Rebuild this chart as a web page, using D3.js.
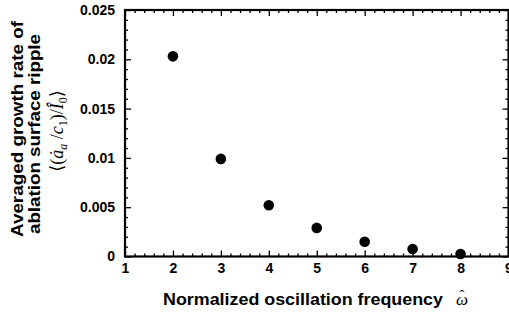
<!DOCTYPE html>
<html>
<head>
<meta charset="utf-8">
<script src="https://cdn.jsdelivr.net/npm/d3@7"></script>
<style>
  body { margin: 0; background: #fff; }
  svg { display: block; }
  text { font-family: "Liberation Sans", Arial, sans-serif; font-weight: bold; }
  .math { font-family: "Liberation Serif", "DejaVu Serif", serif; font-weight: normal; font-style: italic; }
</style>
</head>
<body>
<svg id="chart"></svg>
<script>
var width = 509
var height = 320

// data
var freq = [2, 3, 4, 5, 6, 7, 8]
var growth = [0.0203, 0.0099, 0.0052, 0.0029, 0.0015, 0.00076, 0.00025]
var xTicks = [1, 2, 3, 4, 5, 6, 7, 8, 9]
var yTicks = [0, 0.005, 0.01, 0.015, 0.02, 0.025]
var yTickLabels = ["0", "0.005", "0.01", "0.015", "0.02", "0.025"]

var svg = d3.select("#chart")
    .attr("width", width)
    .attr("height", height)

var x = d3.scaleLinear().domain([1, 9]).range([125, 508.5])
var y = d3.scaleLinear().domain([0, 0.025]).range([256.5, 10])

var xMinor = d3.range(1, 9.001, 0.2).filter(v => Math.abs(v - Math.round(v)) > 0.01)
var yMinor = d3.range(0, 0.02501, 0.001).filter(v => Math.abs(v / 0.005 - Math.round(v / 0.005)) > 0.01)

function styleAxis(g) {
    g.select(".domain").remove()
    g.selectAll(".tick line").attr("stroke", "#000").attr("stroke-width", 1.3)
}

// major + minor ticks on all four sides, pointing inward
var axBottom = svg.append("g").attr("transform", "translate(0," + y(0) + ")")
axBottom.call(d3.axisBottom(x).tickValues(xTicks).tickSize(-6).tickPadding(7).tickFormat(d3.format("d")))
axBottom.append("g").call(d3.axisBottom(x).tickValues(xMinor).tickSize(-3).tickFormat(""))
axBottom.call(styleAxis)
axBottom.selectAll("g").call(styleAxis)
axBottom.selectAll(".tick text").attr("fill", "#000").style("font-size", "14px").attr("dy", "0.71em")

var axTop = svg.append("g").attr("transform", "translate(0," + y(0.025) + ")")
axTop.call(d3.axisTop(x).tickValues(xTicks).tickSize(-6).tickFormat(""))
axTop.append("g").call(d3.axisTop(x).tickValues(xMinor).tickSize(-3).tickFormat(""))
axTop.call(styleAxis)
axTop.selectAll("g").call(styleAxis)

var axLeft = svg.append("g").attr("transform", "translate(" + x(1) + ",0)")
axLeft.call(d3.axisLeft(y).tickValues(yTicks).tickSize(-6).tickPadding(10)
    .tickFormat((d, i) => yTickLabels[i]))
axLeft.append("g").call(d3.axisLeft(y).tickValues(yMinor).tickSize(-3).tickFormat(""))
axLeft.call(styleAxis)
axLeft.selectAll("g").call(styleAxis)
axLeft.selectAll(".tick text").attr("fill", "#000").style("font-size", "14px")

var axRight = svg.append("g").attr("transform", "translate(" + x(9) + ",0)")
axRight.call(d3.axisRight(y).tickValues(yTicks).tickSize(-6).tickFormat(""))
axRight.append("g").call(d3.axisRight(y).tickValues(yMinor).tickSize(-3).tickFormat(""))
axRight.call(styleAxis)
axRight.selectAll("g").call(styleAxis)

// frame
svg.append("rect")
    .attr("x", x(1))
    .attr("y", y(0.025))
    .attr("width", x(9) - x(1))
    .attr("height", y(0) - y(0.025))
    .attr("fill", "none")
    .attr("stroke", "#000")
    .attr("stroke-width", 2.2)

// points
svg.append("g")
    .selectAll("circle")
    .data(freq)
    .enter()
    .append("circle")
        .attr("cx", d => x(d))
        .attr("cy", (d, i) => y(growth[i]))
        .attr("r", 5.3)
        .attr("fill", "#000")

// x axis title
svg.append("text")
    .attr("x", 163)
    .attr("y", 305)
    .attr("textLength", 280)
    .attr("lengthAdjust", "spacingAndGlyphs")
    .style("font-size", "16px")
    .text("Normalized oscillation frequency")

var w = svg.append("text")
    .attr("class", "math")
    .attr("x", 456)
    .attr("y", 305)
    .style("font-size", "17px")
w.append("tspan").text("\u03C9")
w.append("tspan")
    .attr("dx", -8.5)
    .attr("dy", -5)
    .style("font-size", "15px")
    .style("font-style", "normal")
    .text("\u02C6")

// y axis title, three rotated lines
var ylab = svg.append("g")

ylab.append("text")
    .attr("transform", "translate(23,129) rotate(-90)")
    .attr("text-anchor", "middle")
    .attr("textLength", 216)
    .attr("lengthAdjust", "spacingAndGlyphs")
    .style("font-size", "17px")
    .text("Averaged growth rate of")

ylab.append("text")
    .attr("transform", "translate(40,134) rotate(-90)")
    .attr("text-anchor", "middle")
    .attr("textLength", 200)
    .attr("lengthAdjust", "spacingAndGlyphs")
    .style("font-size", "17px")
    .text("ablation surface ripple")

var m = ylab.append("text")
    .attr("class", "math")
    .attr("transform", "translate(63,131) rotate(-90)")
    .attr("text-anchor", "middle")
    .style("font-size", "18px")
m.append("tspan").style("font-style", "normal").text("\u27E8(")
m.append("tspan").text("\u0227")
m.append("tspan").attr("dy", 4).style("font-size", "12px").text("a")
m.append("tspan").attr("dy", -4).style("font-style", "normal").text(" /")
m.append("tspan").text("c")
m.append("tspan").attr("dy", 4).style("font-size", "12px").style("font-style", "normal").text("1")
m.append("tspan").attr("dy", -4).style("font-style", "normal").text(")/")
m.append("tspan").text("\u00CE")
m.append("tspan").attr("dy", 4).style("font-size", "12px").style("font-style", "normal").text("0")
m.append("tspan").attr("dy", -4).style("font-style", "normal").text("\u27E9")
</script>
</body>
</html>
